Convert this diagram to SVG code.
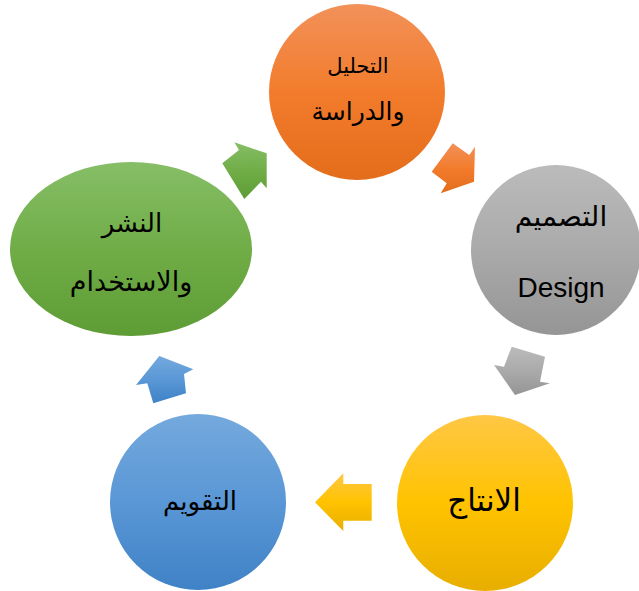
<svg xmlns="http://www.w3.org/2000/svg" width="639" height="591" viewBox="0 0 639 591">
<defs>
<linearGradient id="gOr" x1="0" y1="0" x2="0" y2="1"><stop offset="0" stop-color="#F29159"/><stop offset="0.5" stop-color="#F27C2C"/><stop offset="1" stop-color="#E36D1A"/></linearGradient>
<linearGradient id="gGr" x1="0" y1="0" x2="0" y2="1"><stop offset="0" stop-color="#BBBBBB"/><stop offset="0.5" stop-color="#AAAAAA"/><stop offset="1" stop-color="#959595"/></linearGradient>
<linearGradient id="gYe" x1="0" y1="0" x2="0" y2="1"><stop offset="0" stop-color="#FFC745"/><stop offset="0.5" stop-color="#FFC300"/><stop offset="1" stop-color="#E8AE00"/></linearGradient>
<linearGradient id="gBl" x1="0" y1="0" x2="0" y2="1"><stop offset="0" stop-color="#74A9DD"/><stop offset="0.5" stop-color="#5A97D6"/><stop offset="1" stop-color="#3F82C6"/></linearGradient>
<linearGradient id="gGn" x1="0" y1="0" x2="0" y2="1"><stop offset="0" stop-color="#86BE67"/><stop offset="0.5" stop-color="#70AD47"/><stop offset="1" stop-color="#5E9C36"/></linearGradient>
</defs>
<style>
text{font-family:"DejaVu Sans","Liberation Sans",sans-serif;fill:#000;text-anchor:middle}
.en{font-family:"Liberation Sans",Arial,sans-serif}
</style>
<g id="connectors">
<polygon points="452.7,143.3 469.3,155 475,146.7 474,181.7 440.7,193.3 446.7,183.3 431.7,171.7" fill="url(#gOr)"/>
<polygon points="511.7,346.7 545,356.7 540,381.7 550,383.3 515,395 494,365 504,366.7" fill="url(#gGr)"/>
<polygon points="371.7,484 343.3,484 343.3,473.3 315,502.3 343.3,531 343.3,520.7 371.7,520.7" fill="url(#gYe)"/>
<polygon points="159.3,356 193.3,369.3 184,374 186,393.3 153.3,403.3 147.3,383.3 136,385" fill="url(#gBl)"/>
<polygon points="234.3,142.3 266.7,153.3 266.7,188.3 261,181.7 244.3,199 222.3,163.3 239,150" fill="url(#gGn)"/>
</g>
<g id="node-analysis">
<circle cx="357" cy="92" r="88" fill="url(#gOr)"/>
<text x="358" y="73" font-size="21">التحليل</text>
<text x="358" y="120" font-size="25">والدراسة</text>
</g>
<g id="node-design">
<circle cx="556" cy="250" r="85" fill="url(#gGr)"/>
<text x="561" y="226" font-size="28">التصميم</text>
<text class="en" x="561" y="297" font-size="28">Design</text>
</g>
<g id="node-production">
<circle cx="485" cy="503" r="88" fill="url(#gYe)"/>
<text x="484" y="511" font-size="31">الانتاج</text>
</g>
<g id="node-evaluation">
<circle cx="198" cy="502" r="88" fill="url(#gBl)"/>
<text x="200" y="510" font-size="26">التقويم</text>
</g>
<g id="node-publish">
<ellipse cx="131" cy="249" rx="121" ry="87" fill="url(#gGn)"/>
<text x="132" y="232" font-size="26">النشر</text>
<text x="131" y="291" font-size="27">والاستخدام</text>
</g>
</svg>
